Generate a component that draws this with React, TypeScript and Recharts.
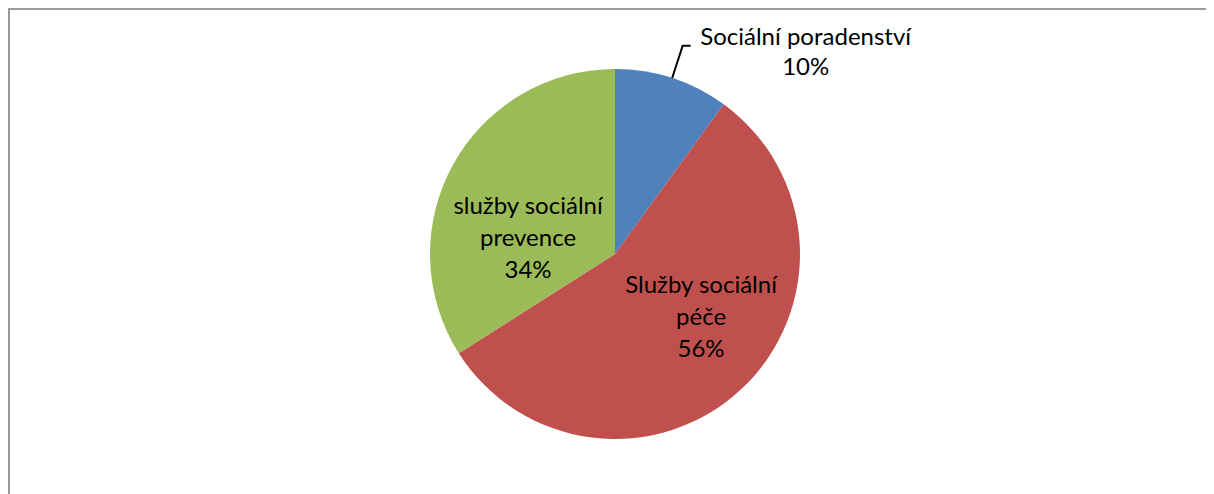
import { PieChart, Pie, Cell } from "recharts";

const NAMES = ["Sociální poradenství", "Služby sociální péče", "služby sociální prevence"];
const VALUES = [10, 56, 34];
const PERCENTS = ["10%", "56%", "34%"];
// label text split into lines as in the original chart
const LABEL_LINES = [
  ["Sociální poradenství", "10%"],
  ["Služby sociální", "péče", "56%"],
  ["služby sociální", "prevence", "34%"],
];
const COLORS = ["#4F81BD", "#C0504D", "#9BBB59"];

const data = NAMES.map((name, i) => ({ name, value: VALUES[i], pct: PERCENTS[i] }));

const FONT = "Lato, 'Noto Sans', sans-serif";
const FONT_SIZE = 24;
const LINE_H = 32;
const RAD = Math.PI / 180;

// inside label placement: polar angle (deg) and radius ratio of the middle line
const INSIDE = [null, { angle: -39.5, r: 0.603 }, { angle: 174.7, r: 0.472 }];

function renderLabel(props: any) {
  const { cx, cy, midAngle, outerRadius, index } = props;
  const lines = LABEL_LINES[index];

  if (index === 0) {
    // outside label with leader line
    const sx = cx + outerRadius * Math.cos(-midAngle * RAD);
    const sy = cy + outerRadius * Math.sin(-midAngle * RAD);
    const mx = cx + (outerRadius + 34) * Math.cos(-midAngle * RAD);
    const my = cy + (outerRadius + 34) * Math.sin(-midAngle * RAD);
    const ex = mx + 8;
    return (
      <g key="l0">
        <polyline
          points={`${sx},${sy} ${mx},${my} ${ex},${my}`}
          fill="none"
          stroke="#000"
          strokeWidth={2}
        />
        <text
          x={ex + 115}
          y={my - 1}
          textAnchor="middle"
          fontFamily={FONT}
          fontSize={FONT_SIZE}
          fill="#000"
        >
          {lines.map((t, k) => (
            <tspan key={k} x={ex + 115} dy={k === 0 ? 0 : 30}>
              {t}
            </tspan>
          ))}
        </text>
      </g>
    );
  }

  const p = INSIDE[index]!;
  const x = cx + p.r * outerRadius * Math.cos(-p.angle * RAD);
  const y = cy + p.r * outerRadius * Math.sin(-p.angle * RAD);
  const firstY = y - ((lines.length - 1) / 2) * LINE_H;
  return (
    <text
      key={"l" + index}
      x={x}
      y={firstY}
      textAnchor="middle"
      fontFamily={FONT}
      fontSize={FONT_SIZE}
      fill="#000"
    >
      {lines.map((t, k) => (
        <tspan key={k} x={x} dy={k === 0 ? 0 : LINE_H}>
          {t}
        </tspan>
      ))}
    </text>
  );
}

export default function App() {
  return (
    <div
      style={{
        width: 1206,
        height: 486,
        boxSizing: "border-box",
        borderLeft: "2px solid #9a9a9a",
        borderTop: "2px solid #9a9a9a",
        background: "#fff",
        overflow: "hidden",
      }}
    >
      <PieChart width={1204} height={484} margin={{ top: 0, right: 0, bottom: 0, left: 0 }}>
        <Pie
          data={data}
          dataKey="value"
          nameKey="name"
          cx={605}
          cy={244}
          outerRadius={185}
          startAngle={90}
          endAngle={-270}
          stroke="none"
          labelLine={false}
          label={renderLabel}
          isAnimationActive={false}
        >
          {data.map((d, i) => (
            <Cell key={d.name} fill={COLORS[i]} />
          ))}
        </Pie>
      </PieChart>
    </div>
  );
}
